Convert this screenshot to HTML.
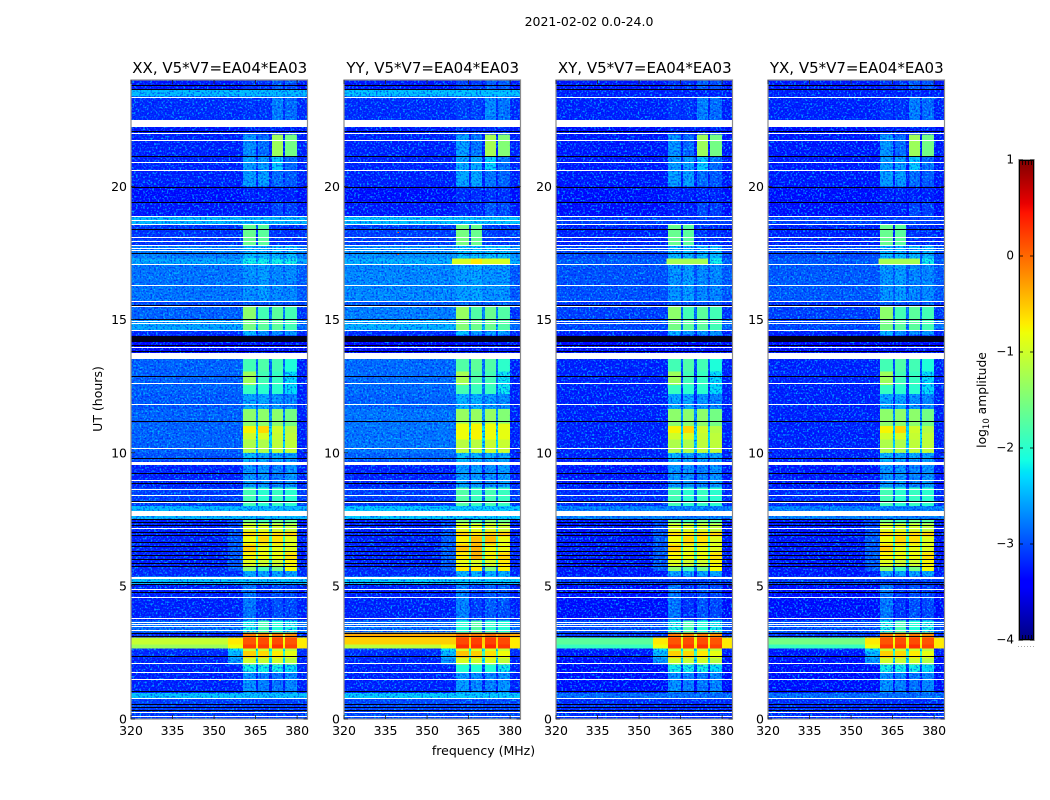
<!DOCTYPE html>
<html>
<head>
<meta charset="utf-8">
<title>2021-02-02 0.0-24.0</title>
<style>
html,body{margin:0;padding:0;background:#fff;}
svg{display:block;font-family:"DejaVu Sans","Liberation Sans",sans-serif;}
</style>
</head>
<body>
<svg id="chart" width="1050" height="800" viewBox="0 0 1050 800" xmlns="http://www.w3.org/2000/svg">
  <defs>
    <filter id="speckle-light" x="0" y="0" width="1" height="1">
      <feTurbulence type="fractalNoise" baseFrequency="0.55" numOctaves="1" seed="7"/>
      <feColorMatrix type="matrix" values="0 0 0 0 0  0 0 0 0 0.62  0 0 0 0 1  5 0 0 0 -2.5"/>
    </filter>
    <filter id="speckle-dark" x="0" y="0" width="1" height="1">
      <feTurbulence type="fractalNoise" baseFrequency="0.55" numOctaves="1" seed="23"/>
      <feColorMatrix type="matrix" values="0 0 0 0 0  0 0 0 0 0  0 0 0 0 0.9  5 0 0 0 -2.5"/>
    </filter>
    <linearGradient id="jet-gradient" x1="0" y1="1" x2="0" y2="0"></linearGradient>
  </defs>
  <text x="589" y="26" font-size="12.5" text-anchor="middle" fill="#000">2021-02-02 0.0-24.0</text>
  <text x="483.5" y="755" font-size="12.5" text-anchor="middle" fill="#000">frequency (MHz)</text>
  <text transform="translate(102,399) rotate(-90)" font-size="12.5" text-anchor="middle" fill="#000">UT (hours)</text>
  <text transform="translate(986,400) rotate(-90)" font-size="12.3" text-anchor="middle" fill="#000">log<tspan font-size="8.5" dy="3">10</tspan><tspan dy="-3"> amplitude</tspan></text>
</svg>
<script>
// ---- categories and tick labels ----
const panelTitles = ['XX, V5*V7=EA04*EA03', 'YY, V5*V7=EA04*EA03', 'XY, V5*V7=EA04*EA03', 'YX, V5*V7=EA04*EA03'];
const xTicks = [320, 335, 350, 365, 380];
const yTicks = [0, 5, 10, 15, 20];
const colorTicks = [1, 0, -1, -2, -3, -4];

// ---- time bands (UT hours); last edge closes the last band ----
const bandEdges = [0, 0.78, 0.98, 1.75, 2.05, 2.3, 2.55, 2.65, 2.8, 3.06, 3.25, 3.7, 5.05, 5.35, 5.55, 5.75, 6, 6.25, 6.55, 6.85, 7.05, 7.35, 7.5, 8, 8.7, 9.67, 10, 10.5, 10.75, 11, 11.65, 12.2, 12.55, 13.05, 13.73, 14.4, 14.6, 15, 15.5, 15.7, 17.05, 17.3, 17.8, 18.6, 18.9, 19.4, 20, 20.6, 21.1, 21.95, 22.5, 23.38, 23.62, 24];

// ---- background log10 amplitude per band, per polarisation ----
const backgroundXX = [-2.85, -2.15, -3, -3, -3, -2.95, -2.9, -1.3, -1.05, -3, -2.6, -3, -2.15, -2.95, -2.95, -3, -3, -3, -3, -3, -3, -3, -2.2, -2.85, -3, -2.75, -2.65, -2.65, -2.65, -2.65, -2.7, -2.65, -2.65, -2.65, -3.15, -2.95, -2.3, -2.65, -2.8, -2.55, -2.3, -2.5, -2.9, -2.2, -3.05, -3.1, -3, -3, -3, -3.05, -2.95, -2.2, -3.05];
const backgroundYY = [-2.8, -2.1, -3, -3, -3, -2.95, -2.9, -1.1, -0.55, -0.35, -2.6, -3, -2.1, -2.95, -2.95, -3, -3, -3, -3, -3, -3, -3, -2.1, -2.85, -3, -2.65, -2.55, -2.55, -2.55, -2.55, -2.65, -2.6, -2.6, -2.6, -3.15, -2.95, -2.25, -2.5, -2.7, -2.45, -2.25, -2.4, -2.85, -2.15, -3.05, -3.1, -3, -3, -3, -3.05, -2.95, -2.15, -3.05];
const backgroundXY = [-2.95, -2.6, -3.1, -3.1, -3.1, -3.05, -3, -1.75, -1.6, -2.9, -2.75, -3.1, -2.85, -3.05, -3.05, -3.05, -3.05, -3.05, -3.05, -3.05, -3.05, -3.05, -2.5, -2.95, -3.05, -3, -3, -3, -3, -3, -3, -3, -3, -3, -3.2, -3, -2.8, -2.85, -2.95, -2.75, -2.7, -2.8, -3, -2.85, -3.1, -3.1, -3.05, -3.05, -3.05, -3.1, -3, -3, -3.05];
const backgroundYX = [-2.95, -2.6, -3.1, -3.1, -3.1, -3.05, -3, -1.75, -1.5, -2.9, -2.75, -3.1, -2.85, -3.05, -3.05, -3.05, -3.05, -3.05, -3.05, -3.05, -3.05, -3.05, -2.5, -2.95, -3.05, -3, -3, -3, -3, -3, -3, -3, -3, -3, -3.2, -3, -2.8, -2.85, -2.95, -2.7, -2.7, -2.8, -3, -2.85, -3.1, -3.1, -3.05, -3.05, -3.05, -3.1, -3, -3, -3.05];

// ---- signal log10 amplitude per band in the four spectral windows (null = background) ----
const window1 = [null, null, -2.4, -1.9, -1, -0.55, -1, 0.25, 0.1, -0.1, -1.9, -2.55, null, -2.3, -1.4, -0.9, -0.75, -0.55, -0.8, -0.6, -0.95, -1.5, null, -1.7, -2.4, -2.2, -1.2, -1, -0.75, -1.4, -2.3, -1.75, -1.3, -1.7, -3.1, -2.2, -1.5, -1.4, -2.7, -2.4, -1.9, -2.2, -1.55, null, -3, -3, -2.35, -2.35, -2.4, -3, -2.9, null, -2.9];
const window2 = [null, null, -2.5, -1.9, -1.05, -0.6, -1, 0.25, 0.15, -0.15, -1.7, -2.9, null, -2.3, -1.7, -1, -0.8, -0.85, -0.6, -0.7, -0.95, -1.7, null, -1.8, -2.4, -2.3, -1.2, -0.95, -0.6, -1.4, -2.3, -1.8, -1.7, -1.65, -3.1, -2.4, -1.6, -1.7, -2.7, -2.35, -1.9, -2.2, -1.6, null, -3, -3, -2.35, -2.35, -2.6, -3, -2.9, null, -2.9];
const window3 = [null, null, -2.55, -1.9, -1, -0.7, -1, 0.3, 0.15, -0.1, -1.85, -2.75, null, -2.3, -1.5, -1, -0.8, -0.85, -0.65, -0.6, -1, -1.5, null, -1.75, -2.5, -2.3, -1.1, -1.05, -1, -1.4, -2.4, -1.8, -1.75, -1.7, -3.1, -2.4, -1.6, -1.6, -2.7, -2.45, -1.9, -2.2, -2.9, null, -2.8, -3, -2.6, -2.1, -1.3, -3, -2.5, null, -2.7];
const window4 = [null, null, -2.45, -2, -1.15, -0.85, -1.1, 0.2, 0.1, -0.2, -1.9, -2.8, null, -2.3, -0.8, -0.75, -0.65, -0.9, -0.9, -0.55, -1.1, -1.6, null, -1.8, -2.4, -2.35, -1.1, -1.1, -1.15, -1.5, -2.5, -2, -2, -1.85, -3.1, -2.4, -1.7, -1.7, -2.7, -2.45, -1.9, -2.2, -2.95, null, -2.85, -3, -2.7, -2.6, -1.5, -3, -2.6, null, -2.75];

// ---- shoulder (355-360 MHz) and upper band edge levels per band (null = background) ----
const shoulderLevel = [null, null, null, null, -2.4, -2.2, -2, -0.8, -0.7, null, null, null, null, null, -2.7, -2.7, -2.7, -2.7, -2.7, -2.7, -2.8, -2.8, null, null, null, null, null, null, null, null, null, null, null, null, null, null, null, null, null, null, null, null, null, null, null, null, null, null, null, null, null, null, null];
const upperEdgeLevel = [null, null, null, null, null, null, null, -0.7, -0.7, null, null, null, null, null, null, null, null, null, null, null, null, null, null, null, null, -3, -3, -3, -3, -3, -3, -3, -3, -3, null, null, -2.6, -2.9, null, -2.7, null, null, null, null, null, null, null, null, null, null, null, null, null];

// ---- spectral window edges (MHz) and polarisation level offsets ----
const windowStartMHz = [360.4, 365.8, 370.9, 375.6];
const windowEndMHz = [365.1, 369.8, 374.9, 379.9];
const panelSignalOffset = [0, 0.06, 0, 0];

// ---- panel-specific features: panel, hour start, hour end, MHz start, MHz end, level ----
const panelFeatures = [
  [1, 17.05, 17.3, 359, 379.9, -0.95],
  [1, 17.05, 17.3, 365.8, 369.8, -0.7],
  [2, 17.05, 17.3, 360, 374.9, -1.25],
  [3, 17.05, 17.3, 360, 374.9, -1.25],
  [1, 10.5, 11.1, 360.4, 365.1, -0.8],
  [1, 10.5, 11.1, 365.8, 369.8, -0.75],
  [1, 10.5, 11.1, 370.9, 374.9, -0.8],
  [1, 10.5, 11.1, 375.6, 379.9, -0.85],
  [1, 6, 6.55, 365.8, 369.8, -0.4],
  [1, 6.55, 6.85, 365.8, 369.8, -0.45],
  [1, 6.55, 6.85, 370.9, 374.9, -0.45],
  [1, 5.55, 5.75, 360.4, 365.1, -0.7],
  [1, 5.55, 5.75, 365.8, 369.8, -0.7],
  [1, 17.42, 17.47, 339.4, 339.8, 0.1],
  [1, 18.25, 18.3, 339.4, 339.8, 0.2],
  [0, 1.42, 1.47, 352, 352.4, -0.6]
];

// ---- flagged (blank) and zero-valued time rows, hours ----
const blankLines = [23.36, 22, 21.73, 20.92, 20.62, 18.89, 18.71, 18.59, 18.1, 17.95, 17.79, 17.69, 17.6, 17.09, 16.27, 15.7, 15.48, 14.92, 14.86, 14.58, 13.94, 12.59, 11.8, 10.15, 8.95, 8.61, 8.39, 8.12, 7.15, 4.86, 4.56, 3.77, 3.63, 3.55, 3.47, 3.32, 2.08, 1.74, 1.48, 0.77, 0.24, 0.09];
const blankBlockStart = [22.25, 13.53, 9.55, 7.61, 5.27];
const blankBlockEnd = [22.51, 13.73, 9.67, 7.82, 5.35];
const zeroLines = [23.78, 23.63, 22.08, 21.14, 19.98, 19.42, 18.37, 17.47, 15.55, 14.99, 14.05, 13.79, 12.85, 11.16, 9.77, 9.21, 8.84, 8.16, 7.49, 7.37, 7.26, 7, 6.89, 6.62, 6.47, 6.29, 6.13, 5.98, 5.83, 5.72, 5.12, 5.05, 4.75, 3.21, 3.1, 2.35, 1.03, 0.54, 0.43, 0.32];
const zeroBlockStart = [14.17];
const zeroBlockEnd = [14.39];

const backgrounds = [backgroundXX, backgroundYY, backgroundXY, backgroundYX];
const windows = [window1, window2, window3, window4];

// ---- layout and axis functions ----
const NS = 'http://www.w3.org/2000/svg';
const svg = document.getElementById('chart');
const panelLeft = [131, 344, 556, 768];
const panelWidth = 176.5, plotTop = 80, plotBottom = 719;
const mhzMin = 320, mhzMax = 383.75, hourMax = 24;
const xAxis = (p, mhz) => panelLeft[p] + (mhz - mhzMin) / (mhzMax - mhzMin) * panelWidth;
const yAxis = h => plotBottom - h / hourMax * (plotBottom - plotTop);
const cbTop = 160, cbBottom = 640, cbLeft = 1019, cbRight = 1034;
const cbAxis = v => cbBottom - (v + 4) / 5 * (cbBottom - cbTop);

function interp(t, pts) {
  for (let i = 1; i < pts.length; i++) {
    if (t <= pts[i][0]) {
      const a = pts[i - 1], b = pts[i];
      return a[1] + (b[1] - a[1]) * (t - a[0]) / (b[0] - a[0]);
    }
  }
  return pts[pts.length - 1][1];
}
function jet(level) {
  const t = Math.max(0, Math.min(1, (level + 4) / 5));
  const r = interp(t, [[0, 0], [0.35, 0], [0.66, 1], [0.89, 1], [1, 0.5]]);
  const g = interp(t, [[0, 0], [0.125, 0], [0.375, 1], [0.64, 1], [0.91, 0], [1, 0]]);
  const b = interp(t, [[0, 0.5], [0.11, 1], [0.34, 1], [0.65, 0], [1, 0]]);
  return 'rgb(' + Math.round(r * 255) + ',' + Math.round(g * 255) + ',' + Math.round(b * 255) + ')';
}
// faint levels are lifted by the pixel noise layer, so their flat base sits a little lower
function baseLevel(level) {
  const s = Math.max(0, Math.min(1, (-1.4 - level) / 0.5));
  return level - 0.25 * s;
}
function make(tag, attrs, parent) {
  const el = document.createElementNS(NS, tag);
  for (const k in attrs) el.setAttribute(k, attrs[k]);
  parent.appendChild(el);
  return el;
}

// colour-bar gradient
const grad = document.getElementById('jet-gradient');
[0, 0.11, 0.125, 0.34, 0.35, 0.375, 0.64, 0.65, 0.66, 0.89, 0.91, 1].forEach(s => {
  make('stop', { offset: s, 'stop-color': jet(s * 5 - 4) }, grad);
});

// panels
const defsEl = svg.querySelector('defs');
panelTitles.forEach((title, p) => {
  const g = make('g', {}, svg);
  
  

  const left = xAxis(p, mhzMin), right = xAxis(p, mhzMax);
  const clipId = 'clip-' + p;
  const clipEl = make('clipPath', { id: clipId }, defsEl);
  make('rect', { x: left, y: plotTop, width: panelWidth, height: plotBottom - plotTop }, clipEl);
  const noiseClipEl = make('clipPath', { id: 'noise-clip-' + p }, defsEl);

  const heat = make('g', { 'clip-path': 'url(#' + clipId + ')' }, g);
  
  

  function cell(mhz0, mhz1, h0, h1, level, parent, noisy) {
    const x0 = xAxis(p, mhz0), x1 = xAxis(p, mhz1);
    const y1 = yAxis(h0), y0 = yAxis(h1);
    const c = make('rect', { x: x0, y: y0, width: x1 - x0, height: y1 - y0, fill: jet(baseLevel(level)), 'shape-rendering': 'crispEdges' }, parent);
    
    
    if (noisy && level < -1.85) {
      make('rect', { x: x0, y: y0, width: x1 - x0, height: y1 - y0 }, noiseClipEl);
    }
  }

  const bg = backgrounds[p];
  for (let i = 0; i < bandEdges.length - 1; i++) {
    const h0 = bandEdges[i], h1 = bandEdges[i + 1], base = bg[i];
    const sh = shoulderLevel[i] === null ? base : Math.max(base, shoulderLevel[i]);
    const up = upperEdgeLevel[i] === null ? base : upperEdgeLevel[i];
    cell(mhzMin, 355, h0, h1, base, heat, true);
    cell(355, windowStartMHz[0], h0, h1, sh, heat, true);
    let lowest = Infinity;
    windows.forEach((w, k) => {
      const level = w[i] === null ? base : w[i] + panelSignalOffset[p];
      if (level < lowest) lowest = level;
      cell(windowStartMHz[k], windowEndMHz[k], h0, h1, level, heat, true);
    });
    for (let k = 0; k < 3; k++) {
      cell(windowEndMHz[k], windowStartMHz[k + 1], h0, h1, Math.max(base, lowest - 0.9), heat, true);
    }
    cell(windowEndMHz[3], mhzMax, h0, h1, up, heat, true);
  }

  // noise texture, only over the faint cells
  const noise = make('g', { 'clip-path': 'url(#noise-clip-' + p + ')' }, g);
  
  
  make('rect', { x: left, y: plotTop, width: panelWidth, height: plotBottom - plotTop, filter: 'url(#speckle-light)', opacity: 0.75 }, noise);
  make('rect', { x: left, y: plotTop, width: panelWidth, height: plotBottom - plotTop, filter: 'url(#speckle-dark)', opacity: 0.55 }, noise);

  // panel-specific features sit above the noise layer
  const feats = make('g', {}, g);
  
  
  panelFeatures.filter(f => f[0] === p).forEach(f => cell(f[3], f[4], f[1], f[2], f[5], feats, false));

  // flagged rows, snapped to whole pixels
  function row(h0, h1, color, name) {
    const yTop = Math.round(yAxis(h1));
    const r = make('rect', { x: left, y: yTop, width: panelWidth, height: Math.max(1, Math.round(yAxis(h0)) - yTop), fill: color, 'shape-rendering': 'crispEdges' }, g);
    
    
  }
  zeroLines.forEach(h => row(h - 0.015, h + 0.015, '#000010', 'zero-row'));
  zeroBlockStart.forEach((s, i) => row(s, zeroBlockEnd[i], '#00001c', 'zero-block'));
  blankLines.forEach(h => row(h - 0.015, h + 0.015, '#fff', 'flagged-row'));
  blankBlockStart.forEach((s, i) => row(s, blankBlockEnd[i], '#fff', 'flagged-block'));

  // frame
  const frame = make('rect', { x: left, y: plotTop, width: panelWidth, height: plotBottom - plotTop, fill: 'none', stroke: '#8c8c8c', 'stroke-width': 1.2 }, g);
  
  

  // ticks
  xTicks.forEach(v => {
    const x = xAxis(p, v);
    const t1 = make('line', { x1: x, x2: x, y1: plotBottom, y2: plotBottom - 4, stroke: '#222', 'stroke-width': 0.8 }, g);
    
    
    const t2 = make('line', { x1: x, x2: x, y1: plotTop, y2: plotTop + 4, stroke: '#222', 'stroke-width': 0.8 }, g);
    
    
    const lab = make('text', { x: x, y: 735, 'font-size': 12.5, 'text-anchor': 'middle', fill: '#000' }, g);
    
    
    lab.textContent = v;
  });
  yTicks.forEach(v => {
    const y = yAxis(v);
    const t1 = make('line', { x1: left, x2: left + 4, y1: y, y2: y, stroke: '#222', 'stroke-width': 0.8 }, g);
    
    
    const t2 = make('line', { x1: right - 4, x2: right, y1: y, y2: y, stroke: '#222', 'stroke-width': 0.8 }, g);
    
    
    const lab = make('text', { x: left - 4, y: y + 4.5, 'font-size': 12.5, 'text-anchor': 'end', fill: '#000' }, g);
    
    
    lab.textContent = v;
  });

  const tt = make('text', { x: left + panelWidth / 2 + 0.5, y: 73, 'font-size': 15, 'text-anchor': 'middle', fill: '#000' }, g);
  
  
  tt.textContent = title;
});

// colour bar
const cb = make('g', {}, svg);


const cbRect = make('rect', { x: cbLeft, y: cbTop, width: cbRight - cbLeft, height: cbBottom - cbTop, fill: 'url(#jet-gradient)' }, cb);


const cbFrame = make('rect', { x: cbLeft + 0.5, y: cbTop + 0.5, width: cbRight - cbLeft - 1, height: cbBottom - cbTop - 1, fill: 'none', stroke: '#000', 'stroke-width': 1 }, cb);


const cbOuter = make('rect', { x: cbLeft - 0.5, y: cbTop - 0.5, width: cbRight - cbLeft + 1, height: cbBottom - cbTop + 1, fill: 'none', stroke: '#aaa', 'stroke-width': 1 }, cb);


colorTicks.forEach(v => {
  const y = cbAxis(v);
  const t = make('line', { x1: cbLeft, x2: cbLeft + 4, y1: y, y2: y, stroke: '#000', 'stroke-width': 0.8 }, cb);
  
  
  const t2 = make('line', { x1: cbRight - 4, x2: cbRight, y1: y, y2: y, stroke: '#000', 'stroke-width': 0.8 }, cb);
  
  
  const lab = make('text', { x: cbLeft - 5, y: y + 3.5, 'font-size': 12, 'text-anchor': 'end', fill: '#000' }, cb);
  
  
  lab.textContent = String(v).replace('-', '\u2212');
});
[0, 1, 2, 3].forEach(i => {
  const x = cbLeft + 3.5 + i * 3;
  const a = make('line', { x1: x, x2: x, y1: cbTop, y2: cbTop + 5, stroke: '#000', 'stroke-width': 0.8 }, cb);
  
  
  const b = make('line', { x1: x, x2: x, y1: cbBottom - 5, y2: cbBottom, stroke: '#000', 'stroke-width': 0.8 }, cb);
  
  
});
[0, 1, 2, 3, 4, 5].forEach(i => {
  const d = make('rect', { x: 1018 + i * 3, y: 646, width: 1, height: 1, fill: '#aaa' }, cb);
  
  
});
</script>
</body>
</html>
